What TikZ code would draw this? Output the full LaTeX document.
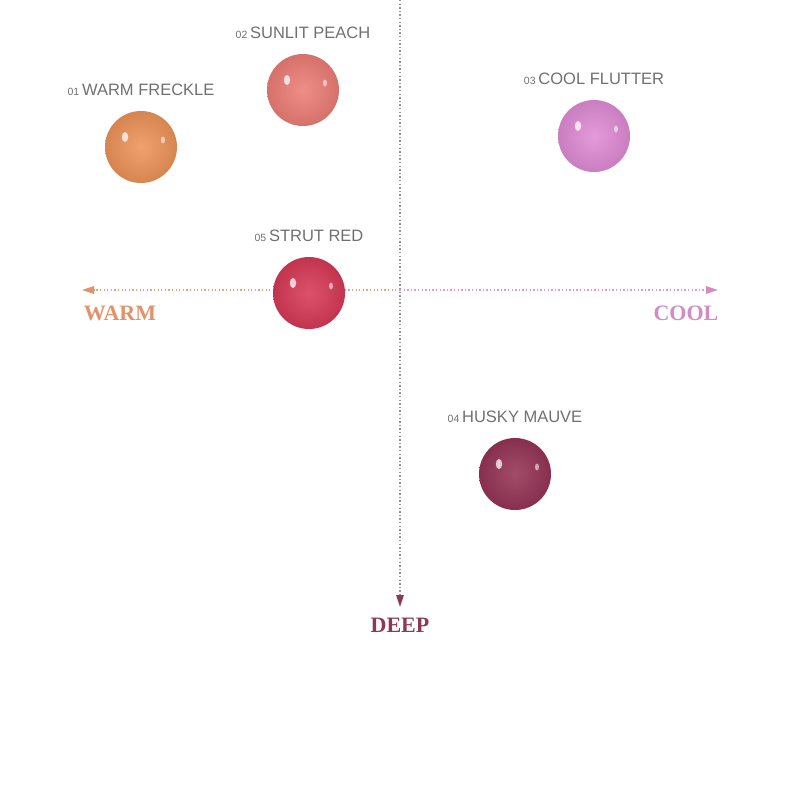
\documentclass[tikz,border=0pt]{standalone}
\usepackage{fontspec}
\setmainfont{Liberation Serif}
\setsansfont{Liberation Sans}
\usetikzlibrary{positioning,arrows.meta}
\definecolor{warmc}{RGB}{226,146,104}
\definecolor{coolc}{RGB}{212,140,192}
\definecolor{deepc}{RGB}{139,58,86}
\definecolor{axgray}{RGB}{150,150,150}
\definecolor{labgray}{RGB}{112,112,112}
\definecolor{freckle}{RGB}{238,148,90}
\definecolor{peach}{RGB}{236,126,118}
\definecolor{flutter}{RGB}{224,140,214}
\definecolor{strut}{RGB}{216,58,86}
\definecolor{mauve}{RGB}{150,52,86}
\newcommand\shadenum[1]{{\fontsize{10.5}{12}\selectfont #1}\,}

\begin{document}
\begin{tikzpicture}[x=1pt, y=-1pt,
  swatch/.style={circle, minimum size=72pt, inner sep=0pt, shade, inner color=#1!88!white, outer color=#1!90!black,
    path picture={\fill[white, opacity=.75] ([shift={(-16pt,10pt)}]path picture bounding box.center) ellipse (3.2pt and 5pt);
      \fill[white, opacity=.55] ([shift={(22pt,7pt)}]path picture bounding box.center) ellipse (2pt and 3.5pt);}},
  lab/.style={font=\sffamily\fontsize{16.5}{19}\selectfont, text=labgray, inner sep=2pt},
  axlab/.style={font=\bfseries\fontsize{22}{25}\selectfont},
  axis/.style={line width=1.3pt, dash pattern=on 1.3pt off 2.3pt},
  tip/.style={-{Triangle[length=12pt, width=7.5pt, color=#1]}},
  node distance=13pt]
\useasboundingbox (0,0) rectangle (800,793);
% axes
\coordinate (o) at (400,290); \coordinate (up) at (400,0);
\coordinate (warmend) at (82,290); \coordinate (coolend) at (718,290); \coordinate (deepend) at (400,607);
\draw[axis, axgray, tip=deepc] (up) -- (deepend);
\draw[axis, warmc!85, tip=warmc] (o) -- (warmend);
\draw[axis, coolc!85, tip=coolc] (o) -- (coolend);
\node[axlab, text=warmc] (warm) at (120,313) {WARM};
\node[axlab, text=coolc] (cool) at (686,313) {COOL};
\node[axlab, text=deepc] (deep) at (400,625) {DEEP};
% shades
\node[swatch=freckle] (s1) at (141,147) {}; \node[lab, above=of s1] (l1) {\shadenum{01}WARM FRECKLE};
\node[swatch=peach] (s2) at (303,90) {}; \node[lab, above=of s2] (l2) {\shadenum{02}SUNLIT PEACH};
\node[swatch=flutter] (s3) at (594,136) {}; \node[lab, above=of s3] (l3) {\shadenum{03}COOL FLUTTER};
\node[swatch=mauve] (s4) at (515,474) {}; \node[lab, above=of s4] (l4) {\shadenum{04}HUSKY MAUVE};
\node[swatch=strut] (s5) at (309,293) {}; \node[lab, above=of s5] (l5) {\shadenum{05}STRUT RED};
\end{tikzpicture}
\end{document}
